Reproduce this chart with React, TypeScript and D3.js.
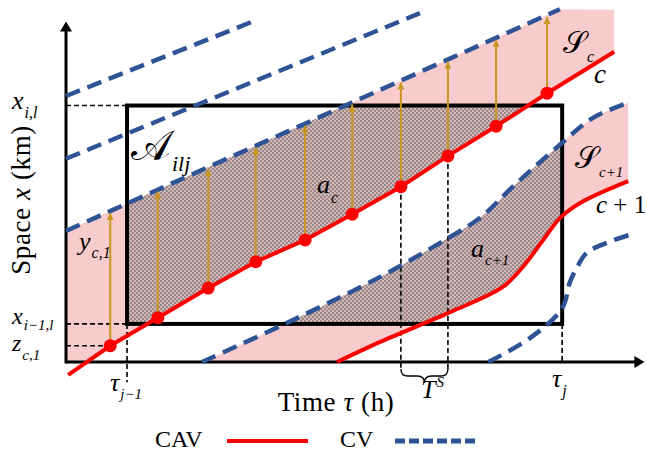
import React from "react";
import * as d3 from "d3";

const W = 647;
const H = 452;
const SERIF = '"Liberation Serif"';
const RED = "#ff0000";
const BLUE = "#2f5496";
const PINK = "#f8cccc";
const GOLD = "#c8961e";

// frame, in data units (time τ in h, space x in km)
const tauDomain = [0, 10];
const spaceDomain = [0, 6];

// cell A_ilj
const tauCell = [1.09, 8.86]; // τ_{j-1}, τ_j
const spaceCell = [0.68, 4.58]; // x_{i-1,l}, x_{i,l}
const zC1 = 0.29;
const tauTS = [5.98, 6.82];

// CAV c and its sampled positions (red dots)
const cavTau = [0.79, 1.64, 2.54, 3.39, 4.27, 5.11, 5.98, 6.82, 7.68, 8.59];
const cavSpace = [0.29, 0.79, 1.32, 1.79, 2.18, 2.64, 3.13, 3.68, 4.21, 4.8];
const cavStart = [0.04, -0.23];
const cavEnd = [9.79, 5.54];

// CV ahead of c
const leadTau = [0, 8.82];
const leadSpace = [2.34, 6.3];
const scTopRight = [9.79, 6.29];

// CVs further ahead
const cvATau = [0, 3.41];
const cvASpace = [4.75, 6.11];
const cvBTau = [0, 6.32];
const cvBSpace = [3.63, 6.23];

// CV ahead of c+1
const nextCvTau = [2.43, 3.95, 5.61, 6.82, 7.39, 7.98, 8.82, 9.41, 10.04];
const nextCvSpace = [0, 0.7, 1.52, 2.21, 2.57, 3.13, 3.88, 4.36, 4.63];
// CAV c+1
const nextCavTau = [4.84, 5.61, 6.86, 7.8, 8.16, 8.52, 8.82, 9.18, 10.04];
const nextCavSpace = [0, 0.36, 0.89, 1.34, 1.7, 2.18, 2.57, 2.84, 3.23];
// CV behind c+1
const lastCvTau = [7.54, 8.29, 8.86, 9.0, 9.13, 9.3, 9.66, 10.16];
const lastCvSpace = [0, 0.43, 0.96, 1.43, 1.7, 1.95, 2.13, 2.3];

const legendNames = ["CAV", "CV"];

function MathLabel({ x, y, main, sub, sup, size = 26, subSize = 16, subDy = 9, supDy = -11, italic = true }) {
  return (
    <text x={x} y={y} style={{ fontFamily: SERIF, fontSize: size, fontStyle: italic ? "italic" : "normal" }}>
      {main}
      {sub && (
        <tspan style={{ fontSize: subSize, fontStyle: "italic" }} dy={subDy} dx={1}>
          {sub}
        </tspan>
      )}
      {sup && (
        <tspan style={{ fontSize: subSize, fontStyle: "italic" }} dy={supDy} dx={1}>
          {sup}
        </tspan>
      )}
    </text>
  );
}

export default function App() {
  const x = d3.scaleLinear().domain(tauDomain).range([66, 626]);
  const y = d3.scaleLinear().domain(spaceDomain).range([362, 26]);
  const zip = (a: number[], b: number[]) => a.map((t, i) => [t, b[i]]);
  const straight = d3.line<number[]>().x(d => x(d[0])).y(d => y(d[1]));
  const smooth = d3
    .line<number[]>()
    .x(d => x(d[0]))
    .y(d => y(d[1]))
    .curve(d3.curveCatmullRom.alpha(0.5));

  const dots = zip(cavTau, cavSpace);
  const cav = [cavStart, ...dots, cavEnd];
  const lead = zip(leadTau, leadSpace);
  const leadAt = d3.scaleLinear().domain(leadTau).range(leadSpace);
  const scPoly =
    straight([...lead, scTopRight, ...[...cav].reverse(), [tauDomain[0], cavStart[1]]]) + "Z";

  const nextCv = zip(nextCvTau, nextCvSpace);
  const nextCav = zip(nextCavTau, nextCavSpace);
  const sc1Poly = smooth(nextCv) + smooth([...nextCav].reverse())!.replace(/^M/, "L") + "Z";

  const x0 = x(0);
  const y0 = y(0);
  const cx0 = x(tauCell[0]);
  const cx1 = x(tauCell[1]);
  const cy0 = y(spaceCell[0]);
  const cy1 = y(spaceCell[1]);

  const guide = { stroke: "#000", strokeWidth: 1.6, strokeDasharray: "5,3" };
  const bx0 = x(tauTS[0]);
  const bx1 = x(tauTS[1]);
  const bm = (bx0 + bx1) / 2;
  const braceTop = 369;
  const braceMid = 376;
  const brace = `M${bx0},${braceTop}Q${bx0},${braceMid} ${bx0 + 7},${braceMid}L${bm - 7},${braceMid}Q${bm},${braceMid} ${bm},${braceMid + 7}Q${bm},${braceMid} ${bm + 7},${braceMid}L${bx1 - 7},${braceMid}Q${bx1},${braceMid} ${bx1},${braceTop}`;
  const textStyle = { fontFamily: SERIF };

  return (
    <svg width={W} height={H} style={{ position: "absolute", left: 0, top: 0, background: "#fff" }}>
      <defs>
        <clipPath id="plot">
          <rect x={x0} y={0} width={W - x0} height={y0} />
        </clipPath>
        <clipPath id="cell">
          <rect x={cx0} y={cy1} width={cx1 - cx0} height={cy0 - cy1} />
        </clipPath>
        <pattern id="hatch" width={4} height={4} patternUnits="userSpaceOnUse">
          <rect width={4} height={4} fill="#dcb6b6" />
          <rect width={2} height={2} fill="#938b8b" />
          <rect x={2} y={2} width={2} height={2} fill="#938b8b" />
        </pattern>
        <marker id="ah" viewBox="0 0 10 10" refX={10} refY={5} markerWidth={8} markerHeight={7}
          markerUnits="userSpaceOnUse" orient="auto">
          <path d="M0,0L10,5L0,10Z" fill={GOLD} />
        </marker>
      </defs>

      {/* feasible bands */}
      <g clipPath="url(#plot)">
        <path d={scPoly} fill={PINK} />
        <path d={sc1Poly} fill={PINK} />
      </g>
      <g clipPath="url(#cell)">
        <path d={scPoly} fill="url(#hatch)" />
        <path d={sc1Poly} fill="url(#hatch)" />
      </g>

      {/* cell */}
      <rect x={cx0} y={cy1} width={cx1 - cx0} height={cy0 - cy1} fill="none" stroke="#000" strokeWidth={4} />

      {/* guides */}
      <line x1={x0} x2={cx0} y1={cy1} y2={cy1} {...guide} />
      <line x1={x0} x2={cx0} y1={cy0} y2={cy0} {...guide} />
      <line x1={x0} x2={x(cavTau[0])} y1={y(zC1)} y2={y(zC1)} {...guide} />
      <line x1={cx0} x2={cx0} y1={cy0} y2={y(-0.36)} {...guide} />
      <line x1={cx1} x2={cx1} y1={cy0} y2={y0} {...guide} />
      {tauTS.map(t => (
        <line key={t} x1={x(t)} x2={x(t)} y1={y(cavSpace[cavTau.indexOf(t)])} y2={braceTop} {...guide} />
      ))}
      <path d={brace} fill="none" stroke="#000" strokeWidth={1.3} />

      {/* axes */}
      <line x1={x0} x2={x(10.2)} y1={y0} y2={y0} stroke="#000" strokeWidth={3} />
      <path d={`M${x(10.33)},${y0}L${x(10.15)},${y0 - 6}L${x(10.15)},${y0 + 6}Z`} fill="#000" />
      <line x1={x0} x2={x0} y1={y0 + 1.5} y2={y(5.95)} stroke="#000" strokeWidth={3} />
      <path d={`M${x0},${y(6.08)}L${x0 - 6},${y(5.9)}L${x0 + 6},${y(5.9)}Z`} fill="#000" />

      {/* CVs */}
      {[
        straight(zip(cvATau, cvASpace)),
        straight(zip(cvBTau, cvBSpace)),
        straight(lead),
        smooth(nextCv),
        smooth(zip(lastCvTau, lastCvSpace)),
      ].map((d, i) => (
        <path key={i} d={d!} fill="none" stroke={BLUE} strokeWidth={4.5} strokeDasharray="15,8" />
      ))}

      {/* CAVs */}
      <path d={straight(cav)!} fill="none" stroke={RED} strokeWidth={4} />
      <path d={smooth(nextCav)!} fill="none" stroke={RED} strokeWidth={4} />

      {/* headway arrows */}
      {dots.map(([t, s]) => (
        <line key={t} x1={x(t)} x2={x(t)} y1={y(s)} y2={y(leadAt(t)) + 2} stroke={GOLD} strokeWidth={2} markerEnd="url(#ah)" />
      ))}
      {dots.map(([t, s]) => (
        <circle key={t} cx={x(t)} cy={y(s)} r={6.5} fill={RED} />
      ))}

      {/* labels */}
      <MathLabel x={12} y={109} main="x" sub="i,l" />
      <MathLabel x={12} y={324} main="x" sub="i−1,l" size={24} subSize={15} subDy={6} />
      <MathLabel x={12} y={351} main="z" sub="c,1" size={24} subSize={15} subDy={9} />
      <MathLabel x={79} y={250} main="y" sub="c,1" subDy={8} />
      <MathLabel x={131} y={160} main="𝒜" sub="ilj" size={42} subSize={22} subDy={11} italic={false} />
      <MathLabel x={317} y={193} main="a" sub="c" subDy={10} />
      <MathLabel x={471} y={257} main="a" sub="c+1" subSize={15} subDy={8} />
      <MathLabel x={563} y={53} main="𝒮" sub="c" size={30} subDy={9} italic={false} />
      <MathLabel x={594} y={83} main="c" size={27} />
      <MathLabel x={575} y={168} main="𝒮" sub="c+1" size={30} subSize={15} subDy={9} italic={false} />
      <text x={596} y={213} style={{ ...textStyle, fontSize: 25 }}>
        <tspan style={{ fontStyle: "italic" }}>c</tspan> + 1
      </text>
      <MathLabel x={110} y={391} main="τ" sub="j−1" subSize={15} subDy={8} />
      <MathLabel x={552} y={387} main="τ" sub="j" subDy={9} />
      <MathLabel x={421} y={398} main="T" sup="S" subSize={15} />

      <text x={336} y={411} textAnchor="middle" style={{ ...textStyle, fontSize: 27, letterSpacing: 0.6 }}>
        Time <tspan style={{ fontStyle: "italic" }}>τ</tspan> (h)
      </text>
      <text transform="translate(30,200) rotate(-90)" textAnchor="middle" style={{ ...textStyle, fontSize: 27, letterSpacing: 0.6 }}>
        Space <tspan style={{ fontStyle: "italic" }}>x</tspan> (km)
      </text>

      {/* legend */}
      <text x={155} y={447} style={{ ...textStyle, fontSize: 24 }}>{legendNames[0]}</text>
      <line x1={227} x2={308} y1={441} y2={441} stroke={RED} strokeWidth={4} />
      <text x={340} y={447} style={{ ...textStyle, fontSize: 24 }}>{legendNames[1]}</text>
      <line x1={395} x2={478} y1={441} y2={441} stroke={BLUE} strokeWidth={5} strokeDasharray="10,4" />
    </svg>
  );
}
